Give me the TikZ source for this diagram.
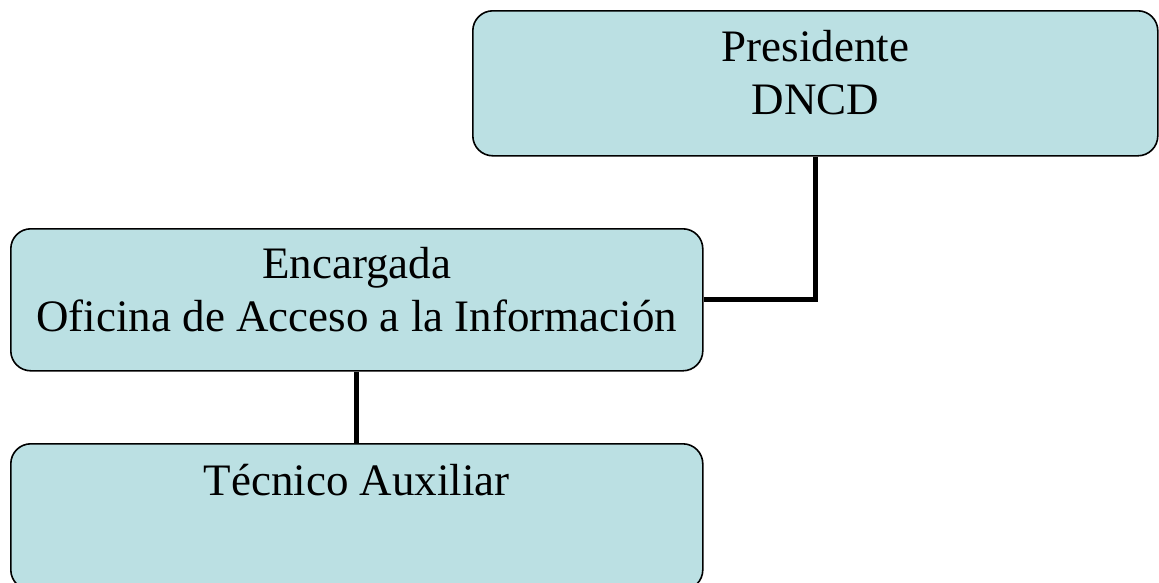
\documentclass[tikz,border=0pt]{standalone}
\usepackage{tikz}
\usepackage{xcolor}
\usetikzlibrary{shapes,arrows}
\usetikzlibrary{calc}
\usepackage{fontspec}
\setmainfont{Liberation Serif}
\definecolor{OrgBlue}{HTML}{BBE0E3}

\begin{document}
\begin{tikzpicture}[x=1pt,y=-1pt]
\tikzstyle{unit}=[draw,rectangle,rounded corners=20,fill=OrgBlue,line width=1.6pt,inner sep=0pt,minimum width=692,anchor=north west]
\tikzstyle{title}=[anchor=north,align=center,inner sep=0pt,font=\fontsize{45}{53}\selectfont]
\tikzstyle{link}=[draw,line width=5pt]
\useasboundingbox (0,0) rectangle (1159,582);
% boxes
\node[unit, minimum width=685, minimum height=145] (pres) at (472,10) {};
\node[unit, minimum height=142] (enc) at (10,228) {};
\node[unit, minimum height=146] (tec) at (10,443) {};
% texts
\node[title] (label_pres) at ($(pres.north)+(0,20)$) {Presidente\\DNCD};
\node[title] (label_enc) at ($(enc.north)+(0,19)$) {Encargada\\Oficina de Acceso a la Información};
\node[title] (label_tec) at ($(tec.north)+(0,21)$) {Técnico Auxiliar};
% lines
\path[link] (pres.south) |- (enc.east);
\path[link] (enc.south) -- (tec.north);
\end{tikzpicture}
\end{document}
